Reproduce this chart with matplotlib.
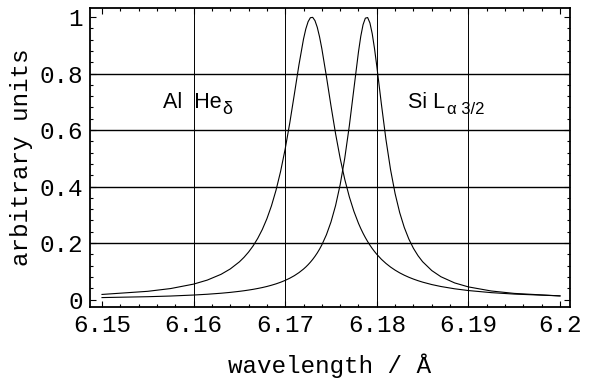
import matplotlib
matplotlib.use("Agg")
import matplotlib.pyplot as plt
from matplotlib.ticker import AutoMinorLocator

# wavelength grid (Angstrom) and the two line profiles
wavelength = [6.150, 6.155, 6.1575, 6.160, 6.1615, 6.163, 6.164, 6.165, 6.1655, 6.166,
              6.1665, 6.167, 6.1675, 6.168, 6.1685, 6.169, 6.1695, 6.170, 6.1705, 6.171,
              6.1715, 6.172, 6.17225, 6.1725, 6.17275, 6.173, 6.17325, 6.1735, 6.17375, 6.174,
              6.1745, 6.175, 6.1755, 6.176, 6.1765, 6.177, 6.1775, 6.178, 6.17825, 6.1785,
              6.17875, 6.179, 6.17925, 6.1795, 6.17975, 6.180, 6.1805, 6.181, 6.1815, 6.182,
              6.1825, 6.183, 6.1835, 6.184, 6.1845, 6.185, 6.186, 6.187, 6.1885, 6.190,
              6.1925, 6.195, 6.200]

al_he_delta = [0.0180, 0.0291, 0.0389, 0.0546, 0.0689, 0.0893, 0.1082, 0.1334, 0.1493, 0.1680,
               0.1900, 0.2164, 0.2479, 0.2859, 0.3317, 0.3872, 0.4539, 0.5333, 0.6252, 0.7269,
               0.8306, 0.9222, 0.9579, 0.9836, 0.9977, 0.9990, 0.9874, 0.9639, 0.9301, 0.8882,
               0.7897, 0.6854, 0.5871, 0.5000, 0.4258, 0.3637, 0.3123, 0.2698, 0.2514, 0.2346,
               0.2193, 0.2053, 0.1925, 0.1807, 0.1700, 0.1601, 0.1426, 0.1278, 0.1150, 0.1040,
               0.0944, 0.0861, 0.0788, 0.0724, 0.0667, 0.0616, 0.0530, 0.0461, 0.0380, 0.0318,
               0.0244, 0.0193, 0.0129]

si_l_alpha = [0.0069, 0.0100, 0.0124, 0.0159, 0.0187, 0.0223, 0.0253, 0.0290, 0.0311, 0.0335,
              0.0361, 0.0391, 0.0424, 0.0462, 0.0506, 0.0555, 0.0612, 0.0678, 0.0755, 0.0845,
              0.0952, 0.1079, 0.1152, 0.1233, 0.1322, 0.1420, 0.1529, 0.1649, 0.1784, 0.1935,
              0.2293, 0.2747, 0.3326, 0.4065, 0.5000, 0.6147, 0.7461, 0.8767, 0.9317, 0.9730,
              0.9961, 0.9983, 0.9792, 0.9412, 0.8886, 0.8264, 0.6923, 0.5664, 0.4601, 0.3748,
              0.3077, 0.2552, 0.2140, 0.1813, 0.1552, 0.1340, 0.1026, 0.0807, 0.0588, 0.0447,
              0.0302, 0.0217, 0.0128]

x_ticks = [6.15, 6.16, 6.17, 6.18, 6.19, 6.20]
x_labels = ["6.15", "6.16", "6.17", "6.18", "6.19", "6.2"]
y_ticks = [0, 0.2, 0.4, 0.6, 0.8, 1.0]
y_labels = ["0", "0.2", "0.4", "0.6", "0.8", "1"]

mono = "Liberation Mono"
plt.rcParams["font.family"] = ["Liberation Sans", "DejaVu Sans"]

fig = plt.figure(figsize=(5.89, 3.82), dpi=100)
ax = fig.add_axes([0.1528, 0.1963, 0.8149, 0.7827])

# grid
for xv in x_ticks[1:-1]:
    ax.axvline(xv, color="black", lw=0.7, zorder=1)
for yv in y_ticks[1:-1]:
    ax.axhline(yv, color="black", lw=1.0, zorder=1)

ax.plot(wavelength, al_he_delta, color="black", lw=0.8, zorder=2)
ax.plot(wavelength, si_l_alpha, color="black", lw=0.8, zorder=2)

ax.set_xlim(6.14869, 6.20109)
ax.set_ylim(-0.0265, 1.032)

ax.set_xticks(x_ticks)
ax.set_xticklabels(x_labels, fontfamily=mono, fontsize=17.5)
ax.set_yticks(y_ticks)
ax.set_yticklabels(y_labels, fontfamily=mono, fontsize=17.5)
ax.xaxis.set_minor_locator(AutoMinorLocator(5))
ax.yaxis.set_minor_locator(AutoMinorLocator(5))
ax.tick_params(which="both", direction="in", top=True, right=True, width=0.8)
ax.tick_params(which="major", length=4, pad=5)
ax.tick_params(which="minor", length=2)

for s in ax.spines.values():
    s.set_linewidth(1.3)

ax.set_xlabel("wavelength / Å", fontfamily=mono, fontsize=17.5, labelpad=12)
ax.set_ylabel("arbitrary units", fontfamily=mono, fontsize=17.5, labelpad=5)

# line labels with larger subscripts than mathtext gives
t1 = ax.text(6.15666, 0.678, "Al  He", fontsize=15.5, va="baseline", ha="left")
ax.annotate("δ", xy=(1, 0), xycoords=t1, xytext=(0.5, -0.5), textcoords="offset points",
            fontsize=13, va="baseline", ha="left")
t2 = ax.text(6.1834, 0.678, "Si L", fontsize=15.5, va="baseline", ha="left")
ax.annotate("α 3/2", xy=(1, 0), xycoords=t2, xytext=(1.5, -0.5), textcoords="offset points",
            fontsize=12, va="baseline", ha="left")

fig.savefig("out.png", dpi=100)
